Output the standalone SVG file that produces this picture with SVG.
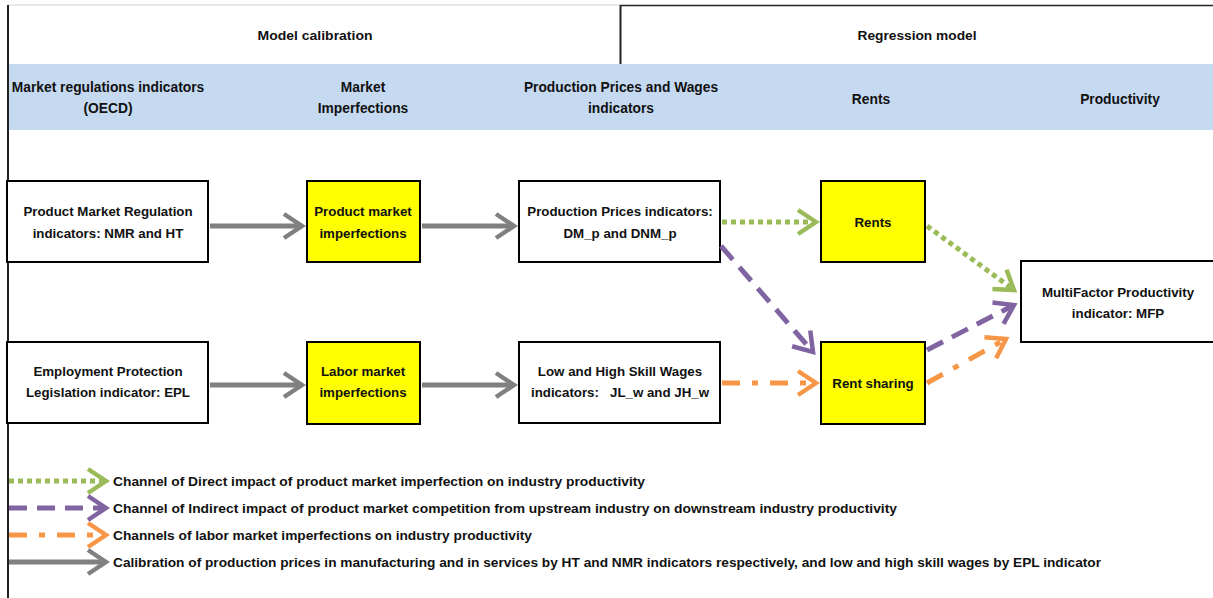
<svg xmlns="http://www.w3.org/2000/svg" width="1213" height="598" viewBox="0 0 1213 598">
<style>
text{font-family:"Liberation Sans",Arial,sans-serif;font-weight:bold;font-size:13.3px;fill:#111;text-anchor:middle}
.hd{font-size:13.8px}
.lg{text-anchor:start;font-size:13px}
.title{font-size:13px;font-weight:bold}
.box{fill:#fff;stroke:#000;stroke-width:2}
.ybox{fill:#ffff00;stroke:#000;stroke-width:2}
.c{fill:none;stroke-width:5}
.gray{stroke:#808080}
.green{stroke:#9bbb59;stroke-dasharray:5 4}
.purple{stroke:#8064a2;stroke-dasharray:18 10}
.orange{stroke:#f79646;stroke-dasharray:18 12 6 12}
</style>
<defs>
<marker id="aG" markerUnits="userSpaceOnUse" viewBox="-24 -16 28 32" markerWidth="28" markerHeight="32" refX="0" refY="0" orient="auto"><path d="M-18,-12 L0,0 L-18,12" fill="none" stroke="#808080" stroke-width="4.5" stroke-dasharray="none"/></marker>
<marker id="aGr" markerUnits="userSpaceOnUse" viewBox="-24 -16 28 32" markerWidth="28" markerHeight="32" refX="0" refY="0" orient="auto"><path d="M-18,-12 L0,0 L-18,12" fill="none" stroke="#9bbb59" stroke-width="4.5" stroke-dasharray="none"/></marker>
<marker id="aP" markerUnits="userSpaceOnUse" viewBox="-24 -16 28 32" markerWidth="28" markerHeight="32" refX="0" refY="0" orient="auto"><path d="M-18,-12 L0,0 L-18,12" fill="none" stroke="#8064a2" stroke-width="4.5" stroke-dasharray="none"/></marker>
<marker id="aO" markerUnits="userSpaceOnUse" viewBox="-24 -16 28 32" markerWidth="28" markerHeight="32" refX="0" refY="0" orient="auto"><path d="M-18,-12 L0,0 L-18,12" fill="none" stroke="#f79646" stroke-width="4.5" stroke-dasharray="none"/></marker>
</defs>
<rect x="0" y="0" width="1213" height="598" fill="#fff"/>
<g id="frame">
<line x1="8" y1="5" x2="620" y2="5" stroke="#e0e0e0" stroke-width="1.5"/>
<line x1="620" y1="5.5" x2="1213" y2="5.5" stroke="#222" stroke-width="1.5"/>
<line x1="620.5" y1="5" x2="620.5" y2="64" stroke="#222" stroke-width="2"/>
<rect x="9" y="64" width="1204" height="66" fill="#c5d9f1"/>
<line x1="8" y1="5" x2="8" y2="598" stroke="#222" stroke-width="2"/>
<text class="title" x="315" y="40" textLength="115" lengthAdjust="spacingAndGlyphs">Model calibration</text>
<text class="title" x="917" y="40" textLength="119" lengthAdjust="spacingAndGlyphs">Regression model</text>
<text class="hd" x="108" y="92">Market regulations indicators</text>
<text class="hd" x="108" y="113">(OECD)</text>
<text class="hd" x="363" y="92">Market</text>
<text class="hd" x="363" y="113">Imperfections</text>
<text class="hd" x="621" y="92">Production Prices and Wages</text>
<text class="hd" x="621" y="113">indicators</text>
<text class="hd" x="871" y="104">Rents</text>
<text class="hd" x="1120" y="104">Productivity</text>
</g>
<g id="n-pmr"><rect class="box" x="7" y="181" width="201" height="81"/><text x="108" y="216">Product Market Regulation</text><text x="108" y="238">indicators: NMR and HT</text></g>
<g id="n-pmi"><rect class="ybox" x="307" y="181" width="113" height="81"/><text x="363" y="216">Product market</text><text x="363" y="238">imperfections</text></g>
<g id="n-ppi"><rect class="box" x="519" y="181" width="201" height="81"/><text x="620" y="216">Production Prices indicators:</text><text x="620" y="238">DM_p and DNM_p</text></g>
<g id="n-rents"><rect class="ybox" x="821" y="181" width="104" height="81"/><text x="873" y="227">Rents</text></g>
<g id="n-mfp"><rect class="box" x="1021" y="261" width="200" height="81"/><text x="1118" y="297">MultiFactor Productivity</text><text x="1118" y="318">indicator: MFP</text></g>
<g id="n-epl"><rect class="box" x="7" y="342" width="201" height="81"/><text x="108" y="376">Employment Protection</text><text x="108" y="397">Legislation indicator: EPL</text></g>
<g id="n-lmi"><rect class="ybox" x="307" y="342" width="113" height="82"/><text x="363" y="376">Labor market</text><text x="363" y="397">imperfections</text></g>
<g id="n-wages"><rect class="box" x="519" y="342" width="201" height="81"/><text x="620" y="376">Low and High Skill Wages</text><text x="620" y="397" xml:space="preserve">indicators:   JL_w and JH_w</text></g>
<g id="n-rs"><rect class="ybox" x="821" y="342" width="104" height="82"/><text x="873" y="388">Rent sharing</text></g>
<g id="connectors">
<line class="c gray" x1="210" y1="226" x2="302" y2="226" marker-end="url(#aG)"/>
<line class="c gray" x1="422" y1="226" x2="514" y2="226" marker-end="url(#aG)"/>
<line class="c gray" x1="210" y1="385" x2="302" y2="385" marker-end="url(#aG)"/>
<line class="c gray" x1="422" y1="385" x2="514" y2="385" marker-end="url(#aG)"/>
<line class="c green" x1="722" y1="222" x2="816" y2="222" marker-end="url(#aGr)"/>
<line class="c green" x1="927" y1="226" x2="1014" y2="290" marker-end="url(#aGr)"/>
<line class="c purple" x1="721" y1="246" x2="813" y2="352" marker-end="url(#aP)"/>
<line class="c purple" x1="927" y1="350" x2="1014" y2="305" marker-end="url(#aP)"/>
<line class="c orange" x1="722" y1="383" x2="816" y2="383" marker-end="url(#aO)"/>
<line class="c orange" x1="927" y1="383" x2="1006" y2="339" marker-end="url(#aO)"/>
</g>
<g id="legend">
<line class="c green" x1="9" y1="481" x2="106" y2="481" marker-end="url(#aGr)"/>
<line class="c purple" x1="9" y1="508" x2="106" y2="508" marker-end="url(#aP)"/>
<line class="c orange" x1="9" y1="535" x2="106" y2="535" marker-end="url(#aO)"/>
<line class="c gray" x1="9" y1="562" x2="106" y2="562" marker-end="url(#aG)"/>
<text class="lg" x="113" y="486" textLength="532" lengthAdjust="spacingAndGlyphs">Channel of Direct impact of product market imperfection on industry productivity</text>
<text class="lg" x="113" y="513" textLength="784" lengthAdjust="spacingAndGlyphs">Channel of Indirect impact of product market competition from upstream industry on downstream industry productivity</text>
<text class="lg" x="113" y="540" textLength="419" lengthAdjust="spacingAndGlyphs">Channels of labor market imperfections on industry productivity</text>
<text class="lg" x="113" y="567" textLength="988" lengthAdjust="spacingAndGlyphs">Calibration of production prices in manufacturing and in services by HT and NMR indicators respectively, and low and high skill wages by EPL indicator</text>
</g>
</svg>
